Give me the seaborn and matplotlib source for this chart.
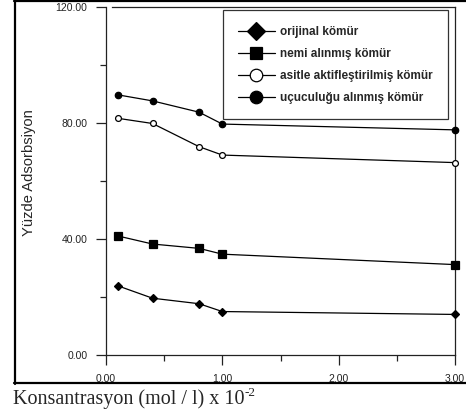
import matplotlib
matplotlib.use("Agg")
import matplotlib.pyplot as plt
from matplotlib.lines import Line2D
from matplotlib.ticker import MultipleLocator, FormatStrFormatter
import seaborn as sns
import pandas as pd

# ---- data ----
conc = [0.1, 0.4, 0.8, 1.0, 3.0]
orijinal = [23.9, 19.6, 17.7, 15.0, 14.0]
nemi = [41.1, 38.3, 36.8, 34.8, 31.2]
asitle = [81.7, 79.9, 71.9, 69.0, 66.4]
ucuculugu = [89.8, 87.7, 83.8, 79.7, 77.7]
series_names = ["orijinal kömür", "nemi alınmış kömür",
                "asitle aktifleştirilmiş kömür", "uçuculuğu alınmış kömür"]
x_ticks = [0.0, 1.0, 2.0, 3.0]
y_ticks = [0.0, 40.0, 80.0, 120.0]

sns.set_style("ticks")
plt.rcParams["font.family"] = ["Liberation Sans", "DejaVu Sans"]

W, H = 466, 416
fig = plt.figure(figsize=(W / 100, H / 100), dpi=100)
ax = fig.add_axes([106 / W, (H - 355) / H, 349 / W, 347.7 / H])

values = [orijinal, nemi, asitle, ucuculugu]
markers = ["D", "s", "o", "o"]
msizes = [4.5, 6.0, 4.2, 4.6]
mfcs = ["black", "black", "white", "black"]

for name, vals, mk, ms, fc in zip(series_names, values, markers, msizes, mfcs):
    df = pd.DataFrame({"x": conc, "y": vals})
    sns.lineplot(data=df, x="x", y="y", ax=ax, color="black", lw=0.9,
                 marker=mk, markersize=ms, markerfacecolor=fc,
                 markeredgecolor="black", markeredgewidth=0.9,
                 clip_on=False, zorder=3)

ax.set_xlim(0, 3)
ax.set_ylim(0, 120)
ax.set_xticks(x_ticks)
ax.set_yticks(y_ticks)
ax.xaxis.set_minor_locator(MultipleLocator(0.5))
ax.yaxis.set_minor_locator(MultipleLocator(20))
ax.xaxis.set_major_formatter(FormatStrFormatter("%.2f"))
ax.yaxis.set_major_formatter(FormatStrFormatter("%.2f"))
ax.set_xlabel("")
ax.set_ylabel("")
ax.tick_params(which="major", direction="out", length=7.5, width=0.9,
               labelsize=7.5, pad=6, colors="#222222")
ax.tick_params(which="minor", direction="out", length=4, width=0.9, colors="#222222")
for s in ax.spines.values():
    s.set_visible(True)
    s.set_linewidth(0.9)
    s.set_color("#222222")
ax.spines["top"].set_bounds(0.05, 3)

# legend
handles = []
for name, mk, fc in zip(series_names, markers, mfcs):
    handles.append(Line2D([], [], color="black", lw=0.9, marker=mk,
                          markersize=9 if mk != "D" else 9.5,
                          markerfacecolor=fc, markeredgecolor="black",
                          markeredgewidth=0.9))
leg = ax.legend(handles=handles, labels=series_names, loc="upper right",
                bbox_to_anchor=(0.98, 0.991), frameon=True, fancybox=False,
                edgecolor="black", prop={"weight": "bold", "size": 8.5},
                handlelength=3.1, handletextpad=0.45, labelspacing=0.85,
                borderpad=1.3, borderaxespad=0)
leg.get_frame().set_linewidth(0.9)

# y label
fig.text(29 / W, 1 - 172.5 / H, "Yüzde Adsorbsiyon", rotation=90,
         ha="center", va="center", fontsize=10.6)

# outer frame
lw = 1.6
fig.add_artist(Line2D([14.5 / W, 14.5 / W], [1 - 0.5 / H, 1 - 383.5 / H],
                      color="black", lw=lw, transform=fig.transFigure))
fig.add_artist(Line2D([13.5 / W, 1], [1 - 0.8 / H, 1 - 0.8 / H],
                      color="black", lw=lw, transform=fig.transFigure))
fig.add_artist(Line2D([13.5 / W, 1], [1 - 383 / H, 1 - 383 / H],
                      color="black", lw=lw, transform=fig.transFigure))

# x label with superscript
xl = fig.text(13 / W, 1 - 404 / H, "Konsantrasyon (mol / l) x 10",
              family="Liberation Serif", fontsize=14.5, ha="left", va="baseline")
renderer = fig.canvas.get_renderer()
bb = xl.get_window_extent(renderer=renderer)
fig.text(bb.x1 / W + 0.5 / W, 1 - 396 / H, "-2", family="Liberation Serif",
         fontsize=9.5, ha="left", va="baseline")

fig.savefig("out.png", dpi=100)
